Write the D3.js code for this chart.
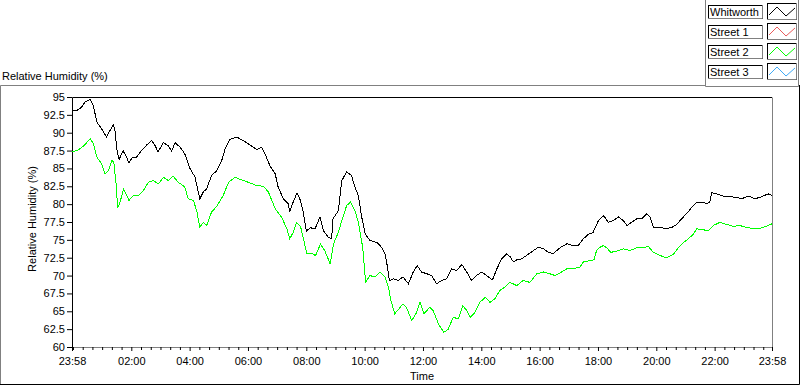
<!DOCTYPE html>
<html>
<head>
<meta charset="utf-8">
<script src="https://cdn.jsdelivr.net/npm/d3@7"></script>
<style>
    body { margin: 0; background: #fff; }
    svg text { font-family: "Liberation Sans", Arial, sans-serif; font-size: 11px; fill: #000; }
</style>
</head>
<body>
<div id="chart"></div>
<script>

// minutes since 23:58 and relative humidity (%)
var whitworthMin = [0, 10, 20, 27, 37, 44, 51, 61, 71, 78,
    85, 88, 93, 97, 105, 112, 117, 125, 133, 143,
    154, 164, 171, 177, 188, 198, 205, 212, 222, 232,
    243, 253, 263, 270, 277, 287, 298, 308, 315, 325,
    339, 352, 366, 380, 390, 397, 407, 418, 424, 435,
    445, 448, 455, 463, 470, 476, 482, 490, 500, 510,
    517, 527, 534, 537, 548, 555, 565, 575, 582, 589,
    596, 603, 613, 627, 637, 644, 649, 653, 661, 671,
    681, 692, 702, 710, 719, 730, 740, 750, 760, 771,
    781, 791, 802, 812, 822, 832, 843, 853, 865, 874,
    884, 894, 902, 908, 915, 925, 935, 949, 959, 970,
    980, 990, 1004, 1018, 1031, 1041, 1052, 1062, 1072, 1083,
    1094, 1103, 1113, 1124, 1134, 1142, 1151, 1162, 1172, 1182,
    1189, 1196, 1210, 1223, 1234, 1244, 1254, 1264, 1275, 1285,
    1295, 1306, 1312, 1316, 1326, 1340, 1354, 1367, 1378, 1391,
    1405, 1419, 1432, 1440];
var whitworthRH = [93.2, 93.1, 93.6, 94.3, 94.65, 93.8, 91.5, 90.55, 89.4, 90.3,
    91.1, 90.5, 87.3, 86.25, 87.5, 86.6, 85.8, 86.6, 86.6, 87.5,
    88.3, 88.9, 88.2, 87.3, 88.6, 88.2, 87.4, 88.6, 88.0, 87.05,
    84.95, 83.8, 80.75, 81.7, 82.15, 84.0, 84.7, 86.1, 87.75, 89.05,
    89.4, 88.9, 88.3, 87.65, 87.95, 87.05, 85.4, 84.25, 82.4, 80.75,
    80.05, 78.9, 80.3, 81.6, 80.5, 78.8, 76.2, 76.7, 76.55, 78.2,
    76.3, 75.4, 75.15, 77.95, 79.1, 83.3, 84.5, 84.0, 82.4, 81.2,
    78.2, 75.85, 74.9, 74.65, 73.95, 73.05, 71.2, 69.3, 69.55, 69.3,
    69.8, 68.85, 70.5, 71.4, 70.5, 70.25, 70.0, 68.85, 69.3, 69.55,
    70.95, 70.7, 71.55, 70.5, 69.3, 70.0, 70.5, 70.0, 69.4, 70.95,
    72.35, 73.05, 72.6, 71.9, 72.2, 72.35, 72.8, 73.5, 73.95, 73.75,
    73.25, 73.1, 73.9, 74.45, 74.2, 74.2, 75.15, 75.75, 76.05, 77.7,
    78.4, 77.45, 77.7, 78.2, 77.7, 77.0, 77.45, 77.95, 77.95, 78.65,
    78.2, 76.75, 76.7, 76.6, 76.75, 77.15, 77.95, 78.65, 79.55, 80.3,
    80.3, 80.1, 80.3, 81.6, 81.45, 81.1, 81.05, 80.95, 80.75, 81.15,
    80.75, 81.05, 81.45, 81.2];

var street2Min = [0, 10, 16, 23, 30, 38, 44, 51, 61, 68,
    75, 82, 86, 91, 94, 99, 106, 113, 117, 126,
    136, 147, 157, 167, 178, 188, 198, 208, 219, 232,
    239, 250, 257, 263, 270, 277, 287, 298, 311, 322,
    335, 349, 363, 380, 394, 404, 418, 431, 442, 448,
    455, 462, 470, 476, 483, 493, 501, 511, 520, 531,
    538, 548, 555, 565, 573, 582, 589, 598, 604, 613,
    623, 634, 644, 651, 656, 664, 675, 681, 688, 699,
    709, 716, 724, 736, 743, 754, 765, 774, 784, 795,
    804, 812, 819, 829, 839, 850, 860, 870, 880, 891,
    901, 915, 928, 942, 956, 970, 983, 994, 1002, 1018,
    1031, 1045, 1052, 1066, 1074, 1079, 1086, 1093, 1100, 1108,
    1120, 1134, 1148, 1162, 1175, 1186, 1196, 1210, 1223, 1237,
    1248, 1258, 1268, 1279, 1285, 1299, 1309, 1319, 1333, 1347,
    1360, 1374, 1388, 1402, 1412, 1422, 1432, 1440];
var street2RH = [87.3, 87.5, 87.75, 88.1, 88.6, 89.15, 88.45, 86.6, 85.65, 84.25,
    84.7, 86.1, 85.9, 82.6, 79.45, 80.3, 82.15, 81.2, 80.5, 81.2,
    81.2, 81.9, 83.05, 83.3, 82.85, 83.75, 83.3, 83.9, 83.05, 82.4,
    80.75, 80.5, 78.9, 76.75, 77.45, 77.0, 78.9, 79.7, 81.2, 83.05,
    83.75, 83.4, 83.05, 82.6, 82.5, 81.7, 79.35, 78.2, 76.55, 75.15,
    76.05, 77.45, 76.9, 75.2, 73.05, 73.1, 72.8, 74.4, 73.5, 71.65,
    74.45, 76.05, 77.7, 79.8, 80.3, 79.1, 77.45, 73.95, 69.05, 70.0,
    69.8, 70.5, 69.8, 68.4, 66.5, 64.65, 65.55, 66.05, 65.55, 63.7,
    64.85, 66.25, 64.65, 65.55, 65.1, 63.2, 62.05, 62.5, 64.15, 63.95,
    65.8, 65.1, 64.15, 64.85, 66.25, 66.95, 66.25, 66.75, 67.9, 68.4,
    69.05, 68.6, 69.3, 69.05, 70.25, 70.5, 70.25, 70.0, 70.3, 70.95,
    70.95, 71.2, 71.9, 72.1, 72.2, 73.5, 73.95, 74.2, 73.9, 73.25,
    73.4, 73.75, 73.5, 73.9, 73.95, 74.05, 73.25, 72.8, 72.5, 72.95,
    73.95, 74.65, 75.15, 75.85, 76.55, 76.4, 76.3, 77.0, 77.45, 77.15,
    76.9, 77.0, 76.75, 76.55, 76.55, 76.75, 77.0, 77.25];

var legendNames = ["Whitworth", "Street 1", "Street 2", "Street 3"];
var legendColors = ["#000000", "#e85a5a", "#00ff00", "#3fa9f5"];
var yTicks = [60, 62.5, 65, 67.5, 70, 72.5, 75, 77.5, 80, 82.5, 85, 87.5, 90, 92.5, 95];

window.onload = function () {

    var w = 800, h = 386;
    var start = new Date(2000, 0, 1, 23, 58);
    var end = new Date(2000, 0, 2, 23, 58);

    var svg = d3.select("#chart").append("svg")
        .attr("width", w).attr("height", h);

    var x = d3.scaleTime().domain([start, end]).range([72, 772]);
    var y = d3.scaleLinear().domain([60, 95]).range([347, 97]);

    function toDate(m) {
        return new Date(start.getTime() + m * 60000);
    }

    // outer panel frame
    svg.append("path").attr("d", "M0.5,385 V85.5 H705.5")
        .attr("fill", "none").attr("stroke", "#808080");
    svg.append("path").attr("d", "M799.5,85 V384.5 H0")
        .attr("fill", "none").attr("stroke", "#000");

    svg.append("text").attr("x", 2).attr("y", 80).text("Relative Humidity (%)");

    // plot area borders
    svg.append("path").attr("d", "M772.5,97.5 V347.5 H72")
        .attr("fill", "none").attr("stroke", "#808080");
    svg.append("path").attr("d", "M72.5,347 V97.5 H772")
        .attr("fill", "none").attr("stroke", "#000");

    // y axis
    var yAxis = svg.append("g").attr("transform", "translate(72,0)")
        .call(d3.axisLeft(y).tickValues(yTicks).tickSize(5).tickPadding(2)
            .tickFormat(function (d) { return String(d); }));
    yAxis.select(".domain").remove();
    yAxis.selectAll("text").attr("font-family", null).attr("font-size", null);

    // x axis, majors every 2 hours (02:00..22:00) plus both ends
    var majors = d3.timeHour.every(2).range(start, end).filter(function (d) {
        return d.getHours() !== 0;
    });
    majors = [start].concat(majors).concat([end]);
    var minors = d3.timeMinute.every(20).range(start, end).filter(function (d) {
        return d.getMinutes() !== 0 || d.getHours() % 2 !== 0 || d.getHours() === 0;
    });

    var xMinor = svg.append("g").attr("transform", "translate(0,347)")
        .call(d3.axisBottom(x).tickValues(minors).tickSize(3).tickFormat(""));
    xMinor.select(".domain").remove();

    var xAxis = svg.append("g").attr("transform", "translate(0,347)")
        .call(d3.axisBottom(x).tickValues(majors).tickSize(4).tickPadding(6)
            .tickFormat(d3.timeFormat("%H:%M")));
    xAxis.select(".domain").remove();
    xAxis.selectAll("text").attr("font-family", null).attr("font-size", null);

    svg.append("text").attr("x", 422).attr("y", 380)
        .attr("text-anchor", "middle").text("Time");
    svg.append("text").attr("transform", "translate(36,219) rotate(-90)")
        .attr("text-anchor", "middle").text("Relative Humidity (%)");

    // the two traces
    var line = d3.line()
        .x(function (d) { return x(toDate(d[0])); })
        .y(function (d) { return y(d[1]); });

    svg.append("path").datum(d3.zip(street2Min, street2RH))
        .attr("d", line).attr("fill", "none")
        .attr("stroke", "#00ff00").attr("stroke-width", 1)
        .attr("shape-rendering", "crispEdges");
    svg.append("path").datum(d3.zip(whitworthMin, whitworthRH))
        .attr("d", line).attr("fill", "none")
        .attr("stroke", "#000").attr("stroke-width", 1)
        .attr("shape-rendering", "crispEdges");

    // legend
    svg.append("path").attr("d", "M705.5,0 V86.5 H798.5 V0")
        .attr("fill", "none").attr("stroke", "#808080");

    var legend = svg.selectAll(".legend").data(legendNames)
        .enter().append("g").attr("class", "legend")
        .attr("transform", function (d, i) { return "translate(0," + (i * 20) + ")"; });

    legend.append("rect").attr("x", 708.5).attr("y", 5.5)
        .attr("width", 54).attr("height", 13)
        .attr("fill", "#fff").attr("stroke", "#000");
    legend.append("path").attr("d", "M762.5,5 V18.5 H708")
        .attr("fill", "none").attr("stroke", "#808080");
    legend.append("text").attr("x", 710).attr("y", 16).text(function (d) { return d; });

    legend.append("rect").attr("x", 767.5).attr("y", 3.5)
        .attr("width", 29).attr("height", 16)
        .attr("fill", "#fff").attr("stroke", "#000");
    legend.append("path").attr("d", "M796.5,3 V19.5 H767")
        .attr("fill", "none").attr("stroke", "#808080");
    legend.append("polyline")
        .attr("points", "769,15 777,7 786,16 795,8")
        .attr("fill", "none")
        .attr("stroke", function (d, i) { return legendColors[i]; });
};

</script>
</body>
</html>
